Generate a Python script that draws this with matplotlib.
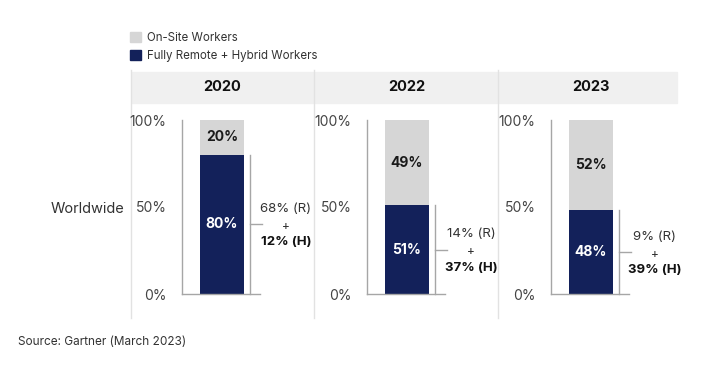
import matplotlib.pyplot as plt
from matplotlib.patches import Patch, Rectangle
from matplotlib.lines import Line2D
import matplotlib.transforms as mtransforms

plt.rcParams['font.family'] = ['Inter', 'DejaVu Sans']

# Data
years = ['2020', '2022', '2023']
remote_hybrid = [80, 51, 48]
on_site = [20, 49, 52]
remote_only = [68, 14, 9]
hybrid_only = [12, 37, 39]
y_ticks = [0, 50, 100]
tick_labels = ['0%', '50%', '100%']

NAVY = '#13215a'
GREY = '#d6d6d6'
LINE = '#a6a6a6'

W, H = 724, 372
fig = plt.figure(figsize=(W / 100, H / 100), dpi=100)

def fx(px):
    return px / W

def fy(py):
    return 1 - py / H

# panel layout in pixels
axis_left = [182, 367, 551]
panel_edges = [131, 314, 498, 678]

# header bands and separators
for i in range(3):
    fig.patches.append(Rectangle((fx(panel_edges[i] + 1), fy(103)),
                                 fx(panel_edges[i + 1] - panel_edges[i] - 2), (103 - 72) / H,
                                 transform=fig.transFigure, color='#f0f0f0', zorder=-2))
for x in panel_edges[:3]:
    fig.add_artist(Line2D([fx(x), fx(x)], [fy(70), fy(318)], color='#e2e2e2', lw=1, zorder=-1))

for i, yr in enumerate(years):
    ax = fig.add_axes([fx(axis_left[i]), fy(294), fx(80), 174 / H])
    ax.set_xlim(-1, 1)
    ax.set_ylim(0, 100)
    ax.patch.set_alpha(0)

    ax.bar(0, remote_hybrid[i], width=1.12, color=NAVY, zorder=2)
    ax.bar(0, on_site[i], bottom=remote_hybrid[i], width=1.12, color=GREY, zorder=2)

    ax.text(0, remote_hybrid[i] / 2, f'{remote_hybrid[i]}%', ha='center', va='center',
            color='white', fontsize=10, fontweight='bold')
    ax.text(0, remote_hybrid[i] + on_site[i] / 2, f'{on_site[i]}%', ha='center', va='center',
            color='#1a1a1a', fontsize=10, fontweight='bold')

    # bracket
    mid = remote_hybrid[i] / 2
    ax.plot([0.7, 0.7], [0, remote_hybrid[i]], color=LINE, lw=1, clip_on=False)
    ax.plot([0.7, 1.0], [mid, mid], color=LINE, lw=1, clip_on=False)
    ax.annotate(f'{remote_only[i]}% (R)', (1.6, mid), xytext=(0, 11), textcoords='offset points',
                ha='center', va='center', fontsize=9.5, color='#333333', annotation_clip=False)
    ax.annotate('+', (1.6, mid), xytext=(0, -2), textcoords='offset points',
                ha='center', va='center', fontsize=8.5, color='#333333', annotation_clip=False)
    ax.annotate(f'{hybrid_only[i]}% (H)', (1.6, mid), xytext=(0, -13), textcoords='offset points',
                ha='center', va='center', fontsize=9.5, fontweight='bold', color='#111111',
                annotation_clip=False)

    ax.set_yticks(y_ticks)
    ax.set_yticklabels(tick_labels)
    ax.set_xticks([])
    ax.tick_params(axis='y', length=0, pad=11, labelsize=10, labelcolor='#444444')
    for s in ['top', 'right']:
        ax.spines[s].set_visible(False)
    for s in ['left', 'bottom']:
        ax.spines[s].set_color(LINE)
        ax.spines[s].set_linewidth(1)
    ax.spines['bottom'].set_bounds(-1, 0.95)

    trans = mtransforms.blended_transform_factory(ax.transData, ax.transAxes)
    ax.text(0, (294 - 87) / 174, yr, transform=trans, ha='center', va='center',
            fontsize=10.5, fontweight='bold', color='#111111')

fig.text(fx(124), fy(209), 'Worldwide', ha='right', va='center', fontsize=10.5, color='#333333')

handles = [Patch(color=GREY), Patch(color=NAVY)]
fig.legend(handles, ['On-Site Workers', 'Fully Remote + Hybrid Workers'],
           loc='upper left', bbox_to_anchor=(fx(120), fy(22)), frameon=False,
           fontsize=8.3, handlelength=0.95, handleheight=0.95, handletextpad=0.45,
           labelspacing=0.5, labelcolor='#333333')

fig.text(fx(18), fy(342), 'Source: Gartner (March 2023)', ha='left', va='center',
         fontsize=8.5, color='#333333')

plt.savefig('out.png', dpi=100)
